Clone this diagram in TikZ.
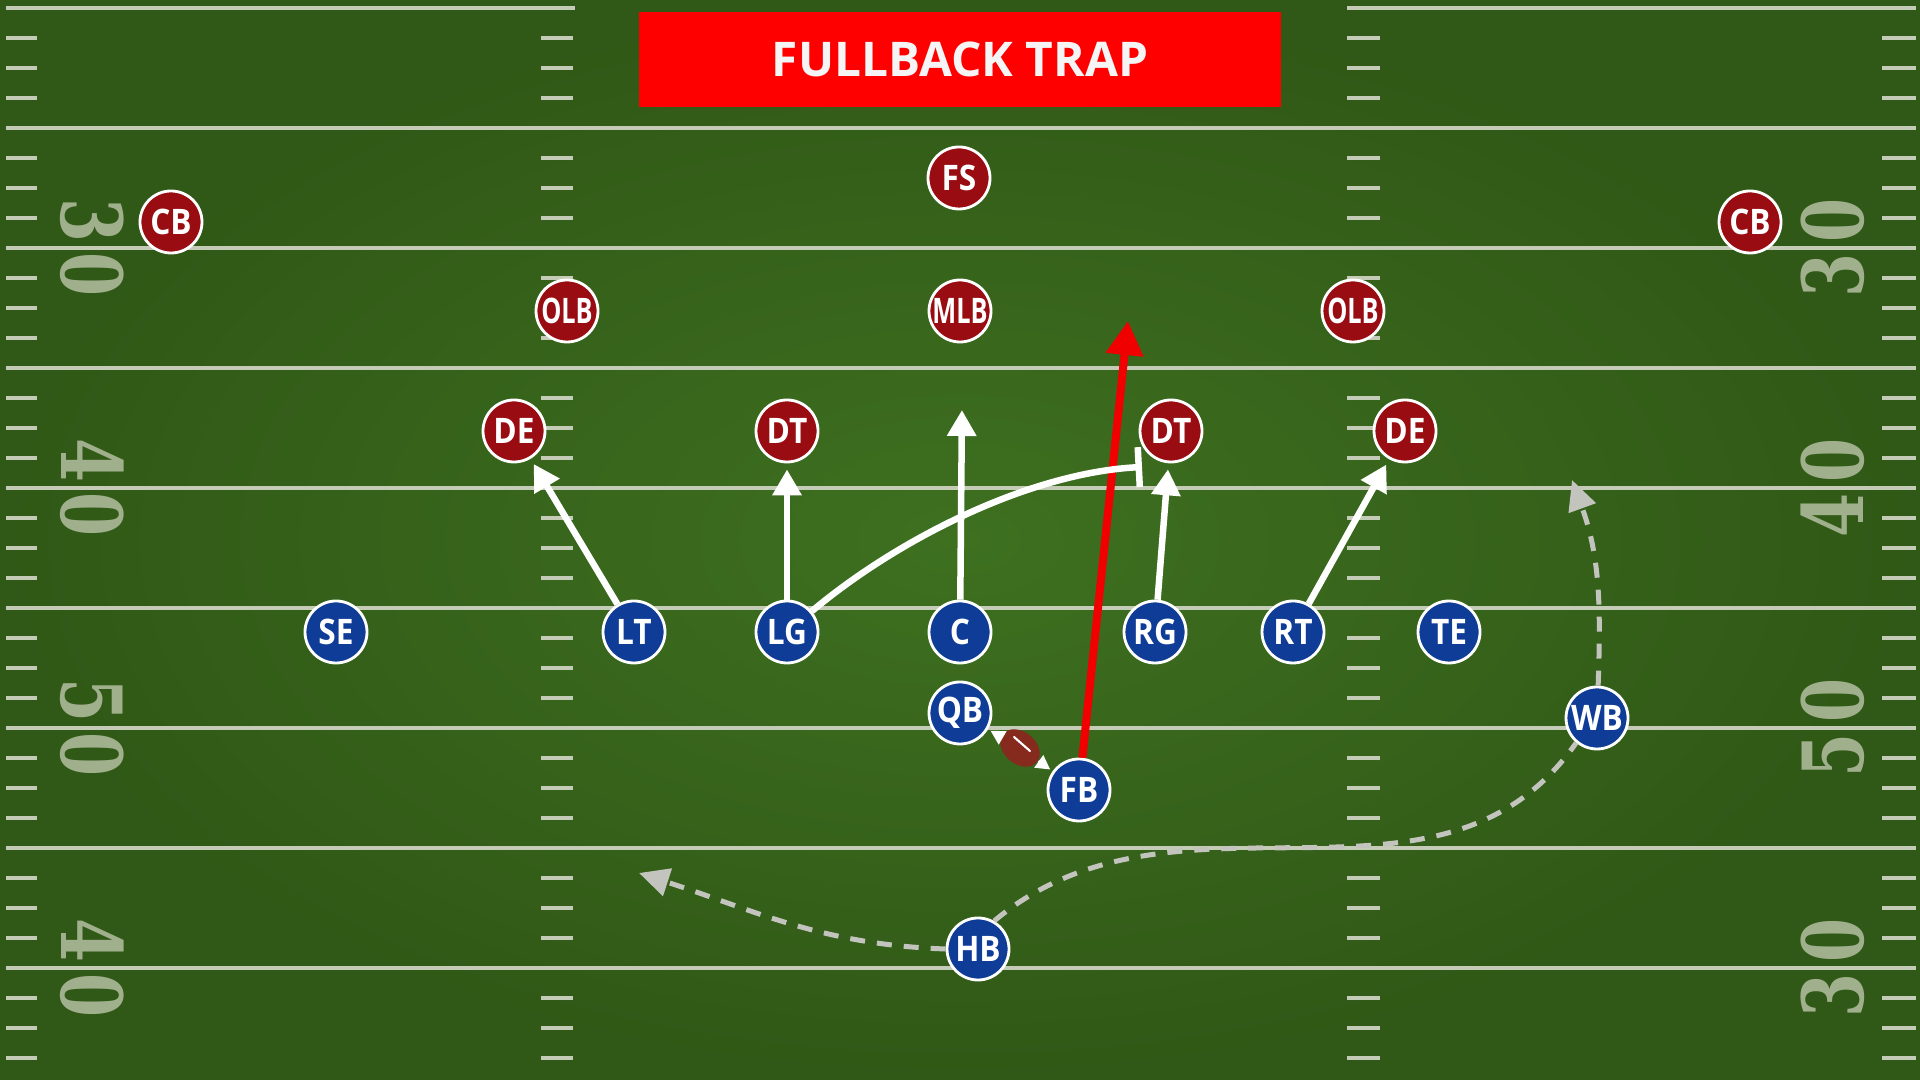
\documentclass[tikz,border=0pt]{standalone}
\usepackage{fontspec}
\usepackage{tikz}
\usetikzlibrary{shapes, positioning, arrows.meta}

\newfontfamily\titlefont{Open Sans}
\newfontfamily\playerfont{Open Sans}[FakeStretch=0.9]
\newfontfamily\narrowfont{Open Sans}[FakeStretch=0.72]
\newfontfamily\yardfont{DejaVu Serif}[FakeStretch=0.75]

\tikzset{
  player/.style={circle, draw=white, line width=0.8pt, minimum size=0.62cm, inner sep=0pt, text=white, font=\playerfont\bfseries\fontsize{10}{10}\selectfont},
  offense/.style={player, fill=offblue},
  defense/.style={player, fill=defred},
  narrow/.style={font=\narrowfont\bfseries\fontsize{10}{10}\selectfont},
  yardline/.style={draw=chalk, line width=0.04cm},
  yardnum/.style={text=numgray, font=\yardfont\bfseries\fontsize{24}{24}\selectfont, inner sep=0pt},
  block/.style={draw=white, line width=0.065cm, -{Triangle[width=0.28cm,length=0.26cm]}, shorten >=0.06cm},
  trap/.style={draw=trapred, line width=0.08cm, -{Triangle[width=0.36cm,length=0.34cm]}},
  pull/.style={draw=white, line width=0.065cm, -{Bar[width=0.4cm]}},
  route/.style={draw=routegray, line width=0.05cm, dash pattern=on 0.15cm off 0.12cm},
  routeend/.style={route, -{Triangle[width=0.28cm,length=0.3cm]}},
  handoff/.style={draw=white, line width=0.025cm, -{Triangle[width=0.15cm,length=0.14cm]}, shorten >=0.03cm}
}

\begin{document}
\begin{tikzpicture}

% Define colors
\definecolor{grassin}{RGB}{62,112,32}
\definecolor{grassout}{RGB}{48,88,22}
\definecolor{chalk}{RGB}{196,204,184}
\definecolor{numgray}{RGB}{160,176,140}
\definecolor{offblue}{RGB}{14,60,150}
\definecolor{defred}{RGB}{152,12,18}
\definecolor{trapred}{RGB}{240,0,0}
\definecolor{titlered}{RGB}{255,0,0}
\definecolor{routegray}{RGB}{196,196,190}
\definecolor{ballbrown}{RGB}{135,42,30}

\useasboundingbox (0,0) rectangle (19.2,10.8);

% Grass
\shade[inner color=grassin, outer color=grassout] (0,0) rectangle (19.2,10.8);

% Yard lines
\draw[yardline] (0.06,10.72) -- (5.75,10.72);
\draw[yardline] (13.47,10.72) -- (19.16,10.72);
\foreach \k in {1,...,8}
  \draw[yardline] (0.06,{10.72-1.2*\k}) -- (19.16,{10.72-1.2*\k});

% Hash marks
\foreach \k in {0,...,8}
  \foreach \j in {1,2,3} {
    \pgfmathsetmacro{\hy}{10.72-1.2*\k-0.3*\j}
    \draw[yardline] (0.06,\hy) -- (0.37,\hy);
    \draw[yardline] (5.41,\hy) -- (5.73,\hy);
    \draw[yardline] (13.47,\hy) -- (13.80,\hy);
    \draw[yardline] (18.82,\hy) -- (19.16,\hy);
  }

% Yard numbers
\node[yardnum, rotate=-90] (l30) at (0.92,8.32) {3\kern0.12em0};
\node[yardnum, rotate=-90] (l40) at (0.92,5.92) {4\kern0.12em0};
\node[yardnum, rotate=-90] (l50) at (0.92,3.52) {5\kern0.12em0};
\node[yardnum, rotate=-90] (l40b) at (0.92,1.12) {4\kern0.12em0};
\node[yardnum, rotate=90] (r30) at (18.33,8.32) {3\kern0.12em0};
\node[yardnum, rotate=90] (r40) at (18.33,5.92) {4\kern0.12em0};
\node[yardnum, rotate=90] (r50) at (18.33,3.52) {5\kern0.12em0};
\node[yardnum, rotate=90] (r30b) at (18.33,1.12) {3\kern0.12em0};

% Title
\node[fill=titlered, minimum width=6.42cm, minimum height=0.95cm, text=white!96!black, font=\titlefont\bfseries\fontsize{13.6}{16}\selectfont] (title) at (9.60,10.205) {FULLBACK TRAP};

% Defense
\node[defense] (fs) at (9.59,9.02) {FS};
\node[defense] (cbl) at (1.71,8.58) {CB};
\node[defense] (cbr) at (17.50,8.58) {CB};
\node[defense, narrow] (olbl) at (5.67,7.69) {OLB};
\node[defense, narrow] (mlb) at (9.60,7.69) {MLB};
\node[defense, narrow] (olbr) at (13.53,7.69) {OLB};
\node[defense] (del) at (5.14,6.49) {DE};
\node[defense] (dtl) at (7.87,6.49) {DT};
\node[defense] (dtr) at (11.71,6.49) {DT};
\node[defense] (der) at (14.05,6.49) {DE};

% Offense
\node[offense] (se) at (3.36,4.48) {SE};
\node[offense] (lt) at (6.34,4.48) {LT};
\node[offense] (lg) at (7.87,4.48) {LG};
\node[offense] (cen) at (9.60,4.48) {C};
\node[offense] (rg) at (11.55,4.48) {RG};
\node[offense] (rt) at (12.93,4.48) {RT};
\node[offense] (te) at (14.49,4.48) {TE};
\node[offense] (qb) at (9.60,3.67) {QB};
\node[offense] (wb) at (15.97,3.62) {WB};
\node[offense] (fb) at (10.79,2.90) {FB};
\node[offense] (hb) at (9.78,1.31) {HB};

% Free ends
\coordinate (cengoal) at (9.62,6.76);
\coordinate (pullend) at (11.42,6.13);
\coordinate (trapgoal) at (11.28,7.59);
\coordinate (wbgoal) at (15.72,6.00);
\coordinate (hbgoal) at (6.39,2.07);

% Fullback run
\draw[trap] (fb) -- (trapgoal);

% Line blocks
\draw[block] (lt) -- (del);
\draw[block] (lg) -- (dtl);
\draw[block] (cen) -- (cengoal);
\draw[block] (rg) -- (dtr);
\draw[block] (rt) -- (der);
\draw[pull] (lg) to[out=40, in=183, looseness=0.8] (pullend);

% Backfield routes
\draw[route] (hb.60) to[out=40, in=-125] (wb.-130);
\draw[routeend] (wb) to[out=88, in=-70] (wbgoal);
\draw[routeend] (hb.west) to[out=178, in=-18] (hbgoal);

% Ball and handoff
\node[ellipse, fill=ballbrown, minimum width=0.44cm, minimum height=0.32cm, inner sep=0pt, rotate=-40] (ball) at (10.20,3.32) {};
\draw[handoff] (ball) -- (qb);
\draw[handoff] (ball) -- (fb);
\draw[white, line width=0.6pt, line cap=round] ([shift={(-0.06,0.11)}]ball.center) -- ([shift={(0.10,-0.03)}]ball.center);

\end{tikzpicture}
\end{document}
